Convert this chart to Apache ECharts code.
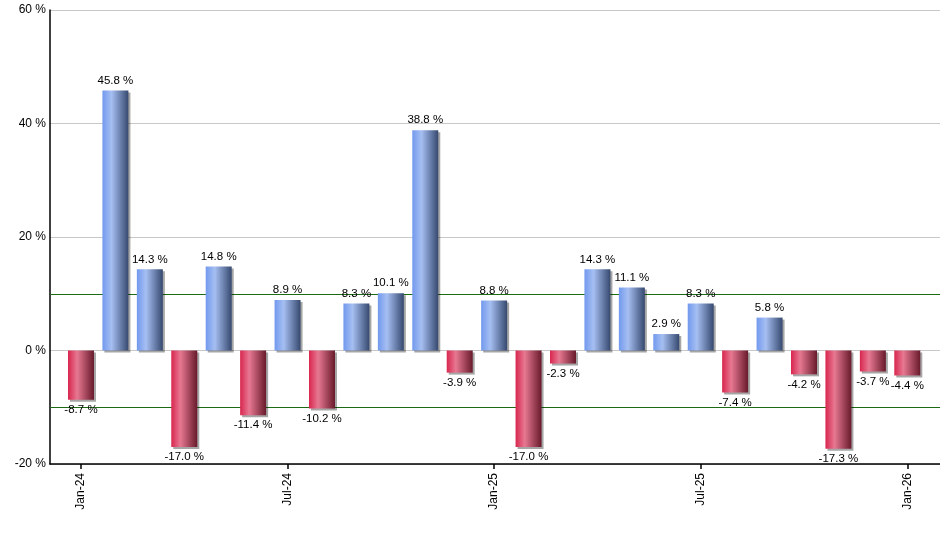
<!DOCTYPE html>
<html>
<head>
<meta charset="utf-8">
<script src="https://cdn.jsdelivr.net/npm/echarts@6/dist/echarts.min.js"></script>
<style>
  html, body { margin: 0; padding: 0; background: #fff; }
  #chart { width: 940px; height: 550px; }
</style>
</head>
<body>
<div id="chart"></div>
<script>
const months = ['Jan-24', 'Feb-24', 'Mar-24', 'Apr-24', 'May-24', 'Jun-24', 'Jul-24', 'Aug-24',
  'Sep-24', 'Oct-24', 'Nov-24', 'Dec-24', 'Jan-25', 'Feb-25', 'Mar-25', 'Apr-25', 'May-25',
  'Jun-25', 'Jul-25', 'Aug-25', 'Sep-25', 'Oct-25', 'Nov-25', 'Dec-25', 'Jan-26'];
const changes = [-8.7, 45.8, 14.3, -17.0, 14.8, -11.4, 8.9, -10.2, 8.3, 10.1, 38.8, -3.9, 8.8,
  -17.0, -2.3, 14.3, 11.1, 2.9, 8.3, -7.4, 5.8, -4.2, -17.3, -3.7, -4.4];
const tickMonths = ['Jan-24', 'Jul-24', 'Jan-25', 'Jul-25', 'Jan-26'];
const yTicks = [-20, 0, 20, 40, 60];
const bands = [10, -10];

const grad = (a, b, c) => new echarts.graphic.LinearGradient(0, 0, 1, 0, [
  { offset: 0, color: a }, { offset: 0.35, color: b }, { offset: 1, color: c }
]);
const blue = grad('#7299ee', '#a6bff2', '#36496f');
const red = grad('#d8264e', '#e77892', '#681a2b');

const chart = echarts.init(document.getElementById('chart'));
chart.setOption({
  animation: false,
  textStyle: { fontFamily: 'Liberation Sans, Arial, sans-serif' },
  grid: { left: 50, right: 0, top: 10, bottom: 86 },
  xAxis: {
    type: 'value',
    min: -0.9,
    max: 24.95,
    interval: 6,
    splitLine: { show: false },
    axisLine: { onZero: false, lineStyle: { color: '#000', width: 1.5 } },
    axisTick: { show: true, length: 5, lineStyle: { color: '#000', width: 1.5 },
      customValues: tickMonths.map(m => months.indexOf(m)) },
    axisLabel: {
      rotate: 90, color: '#000', fontSize: 12, margin: 9,
      customValues: tickMonths.map(m => months.indexOf(m)),
      formatter: v => months[Math.round(v)] || ''
    }
  },
  yAxis: {
    type: 'value',
    min: yTicks[0],
    max: yTicks[yTicks.length - 1],
    interval: 20,
    axisLine: { show: true, onZero: false, lineStyle: { color: '#000', width: 1.5 } },
    axisTick: { show: false },
    axisLabel: { color: '#000', fontSize: 12, margin: 4, formatter: v => v + ' %' },
    splitLine: { lineStyle: { color: '#c8c8c8', width: 1 } }
  },
  series: [{
    type: 'bar',
    barWidth: 26,
    data: changes.map((v, i) => ({
      value: [i, v],
      itemStyle: { color: v >= 0 ? blue : red },
      label: { position: v >= 0 ? 'top' : 'bottom' }
    })),
    itemStyle: {
      shadowColor: 'rgba(0,0,0,0.35)', shadowOffsetX: 2, shadowOffsetY: 2, shadowBlur: 0
    },
    label: {
      show: true, color: '#000', fontSize: 11.5, distance: 4,
      formatter: p => p.value[1].toFixed(1) + ' %'
    },
    markLine: {
      silent: true, symbol: 'none', z: 1,
      label: { show: false },
      lineStyle: { color: '#1a6b12', type: 'solid', width: 1.2 },
      data: bands.map(b => ({ yAxis: b }))
    }
  }]
});
</script>
</body>
</html>
